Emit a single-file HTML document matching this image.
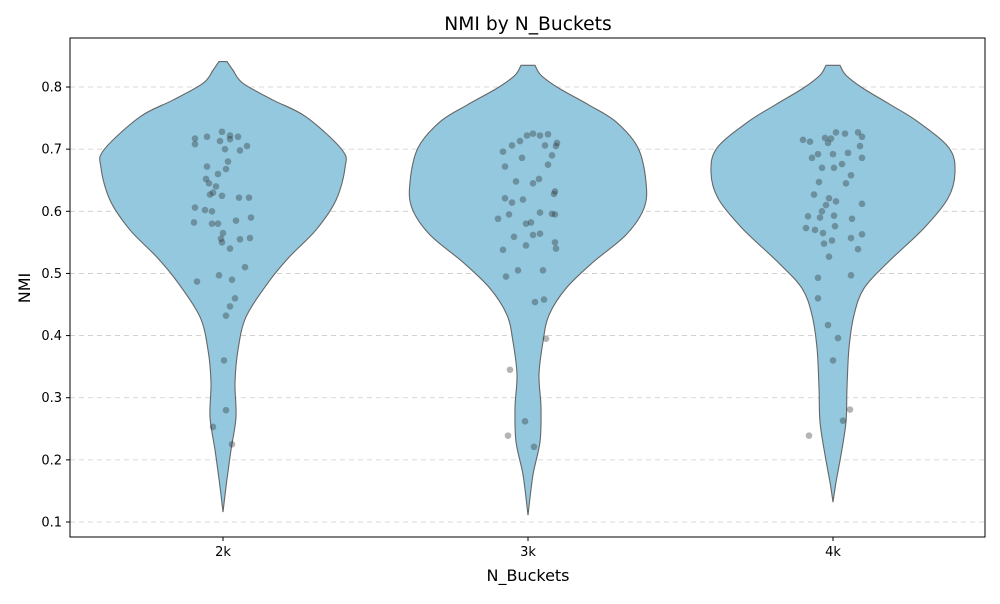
<!DOCTYPE html>
<html><head><meta charset="utf-8"><style>
body{margin:0;background:#fff;font-family:"DejaVu Sans",sans-serif}
svg text{font-family:"DejaVu Sans",sans-serif}
</style></head><body>
<svg width="1000" height="600" id="c">
<rect x="0" y="0" width="1000" height="600" fill="#fff"/>
<text x="528" y="30" text-anchor="middle" font-size="18.7">NMI by N_Buckets</text>
<text x="528" y="581" text-anchor="middle" font-size="16">N_Buckets</text>
<text transform="translate(30,288) rotate(-90)" text-anchor="middle" font-size="16">NMI</text>
<g id="grid"></g><g id="viol"></g><g id="pts"></g><g id="axes"></g>
</svg>
<script>
const categories=["2k","3k","4k"];
const yTicks=[0.1,0.2,0.3,0.4,0.5,0.6,0.7,0.8];
// violin outlines: NMI levels and density half-widths (px-scaled density)
const levels2k=[0.841,0.827,0.806,0.779,0.752,0.699,0.670,0.618,0.570,0.526,0.485,0.430,0.377,0.324,0.269,0.216,0.163,0.116];
const dens2k=[4,10,20,50,83,119,122,113,93,66,45,23,15,12,13,8,3.5,0];
const levels3k=[0.835,0.819,0.798,0.771,0.744,0.702,0.647,0.605,0.562,0.518,0.476,0.433,0.390,0.337,0.284,0.229,0.176,0.111];
const dens3k=[7,13,31,61,88,110,118,116,98,65,38,21,15,11,13,12,5,0];
const levels4k=[0.835,0.819,0.798,0.771,0.744,0.702,0.663,0.621,0.573,0.518,0.476,0.433,0.380,0.316,0.261,0.208,0.164,0.132];
const dens4k=[7,13,30,58,85,116,122,115,91,55,31,21,16,14,13,8,3,0];
const vals2k=[717,720,728,722,720,705,708,713,716,700,698,680,672,660,652,645,640,668,606,602,600,630,625,622,622,582,580,580,585,590,565,555,557,550,540,510,497,490,487,460,447,432,360,280,253,225,556,627];
const jit2k=[195,207,222,230,238,247,195,220,230,225,240,228,207,218,206,209,216,226,195,205,212,213,222,239,249,194,212,218,236,251,223,240,250,222,230,245,219,232,197,235,230,226,224,226,213,232,221,210];
const vals3k=[696,706,713,722,725,722,724,705,706,690,710,686,672,648,645,652,675,632,621,614,619,598,596,595,588,595,580,582,564,562,559,545,538,550,540,505,505,495,454,458,395,345,262,239,221,628];
const jit3k=[503,512,520,527,533,540,548,556,545,552,557,522,505,516,533,539,548,555,505,512,523,540,552,555,498,509,526,531,540,533,514,526,503,555,556,543,518,506,535,544,546,510,525,508,534,554];
const vals4k=[715,712,718,717,727,725,727,720,710,692,692,694,705,686,686,676,670,670,658,647,645,627,621,616,610,612,592,590,593,588,600,573,570,565,576,557,563,553,548,527,539,493,497,460,417,396,360,281,263,239];
const jit4k=[803,810,825,831,836,845,858,862,828,818,833,848,860,862,812,842,822,834,851,819,846,814,829,836,826,862,808,820,834,852,822,806,815,823,835,851,862,832,824,829,858,818,851,818,828,838,833,850,843,809];
const NS="http://www.w3.org/2000/svg";
const L=70,R=985,T=38,B=537;
const y=v=>522-(v-0.1)*621.4;
const x=i=>223+i*305;
function el(t,a,p){const e=document.createElementNS(NS,t);for(const k in a)e.setAttribute(k,a[k]);document.getElementById(p).appendChild(e);return e;}
yTicks.forEach(t=>{
 const g=el("line",{x1:L,x2:R,y1:y(t),y2:y(t),stroke:"#ccc","stroke-dasharray":"5,4","stroke-width":0.8},"grid");
 
 
 el("line",{x1:L-4,x2:L,y1:y(t),y2:y(t),stroke:"#000"},"axes");
 const tx=el("text",{x:L-8,y:y(t)+4.5,"text-anchor":"end","font-size":13},"axes");tx.textContent=t.toFixed(1);
 
 
});
categories.forEach((c,i)=>{
 el("line",{x1:x(i),x2:x(i),y1:B,y2:B+4,stroke:"#000"},"axes");
 const tx=el("text",{x:x(i),y:B+19,"text-anchor":"middle","font-size":13},"axes");tx.textContent=c;
 
 
});
function smooth(p){let d="M"+p[0][0]+","+p[0][1];for(let i=0;i<p.length-1;i++){const a=p[i-1]||p[i],b=p[i],c=p[i+1],e=p[i+2]||c;d+=" C"+(b[0]+(c[0]-a[0])/6)+","+(b[1]+(c[1]-a[1])/6)+" "+(c[0]-(e[0]-b[0])/6)+","+(c[1]-(e[1]-b[1])/6)+" "+c[0]+","+c[1];}return d;}
[[levels2k,dens2k],[levels3k,dens3k],[levels4k,dens4k]].forEach(([lv,dn],i)=>{
 const right=lv.map((v,k)=>[x(i)+dn[k],y(v)]);
 const left=lv.map((v,k)=>[x(i)-dn[k],y(v)]).reverse();
 const d=smooth(right)+" L"+left[0][0]+","+left[0][1]+smooth(left).replace(/^M[^C]*/," ")+" Z";
 const p=el("path",{d:d,fill:"#93c8df",stroke:"#666","stroke-width":1.1},"viol");
 
 
});
[[vals2k,jit2k],[vals3k,jit3k],[vals4k,jit4k]].forEach(([vs,js],i)=>{
 vs.forEach((v,k)=>{
  const c=el("circle",{cx:js[k],cy:y(v/1000),r:3.3,fill:"rgba(40,40,40,0.35)"},"pts");
  
  
 });
});
const f=el("rect",{x:L,y:T,width:R-L,height:B-T,fill:"none",stroke:"#000","stroke-width":1},"axes");


</script>
</body></html>
